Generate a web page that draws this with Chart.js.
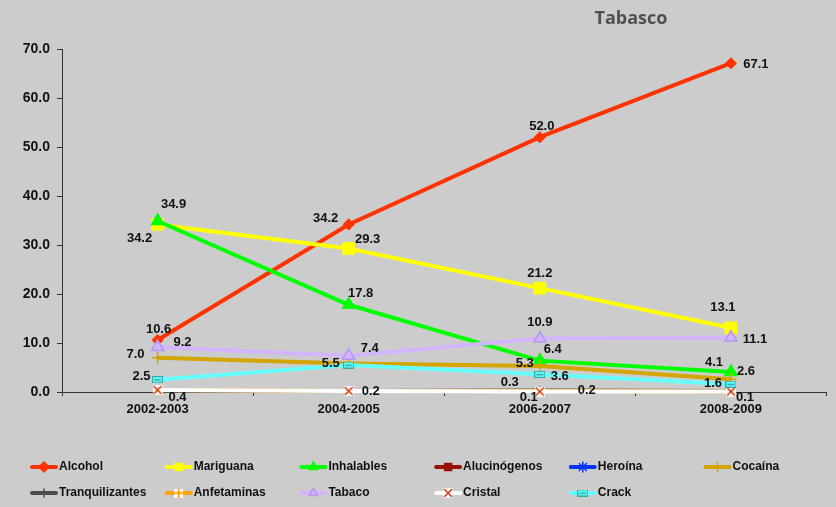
<!DOCTYPE html>
<html>
<head>
<meta charset="utf-8">
<script src="https://cdn.jsdelivr.net/npm/chart.js@4.4.1/dist/chart.umd.min.js"></script>
<style>
  html, body { margin: 0; padding: 0; background: #cccccc; }
  canvas { display: block; }
</style>
</head>
<body>
<canvas id="chart" width="836" height="507"></canvas>
<script>
// periods on the x axis
const periods = ["2002-2003", "2004-2005", "2006-2007", "2008-2009"];

// series values (%)
const alcohol = [10.6, 34.2, 52.0, 67.1];
const mariguana = [34.2, 29.3, 21.2, 13.1];
const inhalables = [34.9, 17.8, 6.4, 4.1];
const alucinogenos = [null, null, null, null];
const heroina = [null, null, null, null];
const cocaina = [7.0, 5.8, 5.3, 2.6];
const tranquilizantes = [0.2, 0.2, 0.3, 0.2];
const anfetaminas = [0.4, 0.2, 0.2, 0.1];
const tabaco = [9.2, 7.4, 10.9, 11.1];
const cristal = [0.4, 0.2, 0.1, 0.1];
const crack = [2.5, 5.5, 3.6, 1.6];

// y axis ticks
const yTicks = [0, 10, 20, 30, 40, 50, 60, 70];

// where each value label sits, relative to its point (null = hidden)
const labelOffsets = {
  "Alcohol": [[1, -11], [-23, -6], [2, -11], [25, 1]],
  "Mariguana": [[-18, 14], [19, -9], [0, -15], [-8, -20]],
  "Inhalables": [[16, -17], [12, -11], [13, -11], [-17, -9]],
  "Cocaína": [[-22, -3], null, [-15, -3], [15, -8]],
  "Tranquilizantes": [null, null, [-30, -8], null],
  "Anfetaminas": [null, null, [47, -1], null],
  "Tabaco": [[25, -4], [21, -7], [0, -16], [24, 2]],
  "Cristal": [[20, 7], [22, 0], [-11, 6], [14, 6]],
  "Crack": [[-16, -3], [-18, -2], [20, 2], [-18, -1]]
};

// small marker images, excel-like
function marker(w, h, draw) {
  const c = document.createElement("canvas");
  c.width = w; c.height = h;
  draw(c.getContext("2d"), w, h);
  return c;
}
const xMark = marker(10, 10, (g, w, h) => {
  g.fillStyle = "rgba(255,255,255,0.85)";
  g.fillRect(0, 0, w, h);
  g.strokeStyle = "#cc3300"; g.lineWidth = 1.5;
  g.beginPath(); g.moveTo(1, 1); g.lineTo(9, 9); g.moveTo(9, 1); g.lineTo(1, 9); g.stroke();
});
const plusMark = marker(9, 9, (g, w, h) => {
  g.fillStyle = "#ffffff";
  g.fillRect(0, 0, w, h);
  g.strokeStyle = "#ffa500"; g.lineWidth = 2;
  g.beginPath(); g.moveTo(4.5, 0); g.lineTo(4.5, 9); g.moveTo(0, 4.5); g.lineTo(9, 4.5); g.stroke();
});
const dashMark = marker(11, 7, (g, w, h) => {
  g.fillStyle = "#66ffff";
  g.fillRect(0, 0, w, h);
  g.strokeStyle = "#33aaaa"; g.lineWidth = 1;
  g.strokeRect(0.5, 0.5, w - 1, h - 1);
  g.fillStyle = "#33aaaa";
  g.fillRect(2, 3, 7, 1.5);
});

const series = [
  { label: "Alcohol", data: alcohol, color: "#ff3300", style: "rectRot", r: 5 },
  { label: "Mariguana", data: mariguana, color: "#ffff00", style: "rect", r: 8 },
  { label: "Inhalables", data: inhalables, color: "#00ff00", style: "triangle", r: 7 },
  { label: "Alucinógenos", data: alucinogenos, color: "#991100", style: "rect", r: 7 },
  { label: "Heroína", data: heroina, color: "#0033ff", style: "star", r: 5 },
  { label: "Cocaína", data: cocaina, color: "#d4a500", style: "cross", r: 6 },
  { label: "Tranquilizantes", data: tranquilizantes, color: "#4d4d4d", style: "cross", r: 4 },
  { label: "Anfetaminas", data: anfetaminas, color: "#ffa500", style: plusMark, r: 5 },
  { label: "Tabaco", data: tabaco, color: "#d2b4ff", style: "triangle", r: 7, border: "#b896f0" },
  { label: "Cristal", data: cristal, color: "#ffffff", style: xMark, r: 5 },
  { label: "Crack", data: crack, color: "#66ffff", style: dashMark, r: 4 }
];

const N = series.length;

const titlePlugin = {
  id: "sideTitle",
  afterDraw(chart) {
    const ctx = chart.ctx;
    ctx.save();
    ctx.font = "bold 18px 'Open Sans'";
    ctx.fillStyle = "#505050";
    ctx.textAlign = "center";
    ctx.textBaseline = "middle";
    ctx.fillText("Tabasco", 631, 19);
    ctx.restore();
  }
};

const valueLabels = {
  id: "valueLabels",
  afterDatasetsDraw(chart) {
    const ctx = chart.ctx;
    ctx.save();
    ctx.font = "bold 13px 'Liberation Sans', Arial";
    ctx.fillStyle = "#111111";
    ctx.textAlign = "center";
    ctx.textBaseline = "middle";
    chart.data.datasets.forEach((ds, i) => {
      const offs = labelOffsets[ds.label];
      if (!offs) return;
      chart.getDatasetMeta(i).data.forEach((pt, j) => {
        const v = ds.data[j];
        if (v == null || !offs[j]) return;
        ctx.fillText(v.toFixed(1), pt.x + offs[j][0], pt.y + offs[j][1]);
      });
    });
    ctx.restore();
  }
};

// legend laid out in fixed columns, two rows
const gridLegend = {
  id: "gridLegend",
  afterDraw(chart) {
    const ctx = chart.ctx;
    const drawPoint = Chart.helpers && Chart.helpers.drawPoint;
    ctx.save();
    ctx.font = "bold 12px 'Liberation Sans', Arial";
    ctx.textBaseline = "middle";
    ctx.textAlign = "left";
    series.forEach((s, i) => {
      const col = i < 6 ? i : i - 6;
      const x = 32 + col * 134.7;
      const y = i < 6 ? 467 : 493;
      ctx.strokeStyle = s.color;
      ctx.lineWidth = 4;
      ctx.lineCap = "round";
      ctx.beginPath();
      ctx.moveTo(x, y);
      ctx.lineTo(x + 24, y);
      ctx.stroke();
      if (drawPoint) {
        ctx.fillStyle = s.color;
        ctx.strokeStyle = s.border || s.color;
        ctx.lineWidth = 1.5;
        drawPoint(ctx, { pointStyle: s.style, radius: Math.min(s.r, 5), rotation: 0, borderWidth: 1.5 }, x + 12, y);
      }
      ctx.fillStyle = "#111111";
      ctx.fillText(s.label, x + 27, y);
    });
    ctx.restore();
  }
};

new Chart(document.getElementById("chart"), {
  type: "line",
  data: {
    labels: periods,
    datasets: series.map((s, i) => ({
      label: s.label,
      data: s.data,
      borderColor: s.color,
      backgroundColor: s.color,
      borderWidth: 4,
      pointStyle: s.style,
      pointRadius: s.r,
      pointBorderColor: s.border || s.color,
      pointBackgroundColor: s.color,
      pointBorderWidth: 1.5,
      tension: 0,
      clip: false,
      order: N - i
    }))
  },
  options: {
    responsive: false,
    devicePixelRatio: 1,
    animation: false,
    layout: { padding: { top: 49, right: 9, left: 0, bottom: 0 } },
    plugins: {
      legend: { display: false },
      title: { display: false },
      tooltip: { enabled: false }
    },
    scales: {
      x: {
        offset: true,
        grid: { display: true, offset: true, drawOnChartArea: false, tickLength: 4, color: "#333333" },
        border: { color: "#333333", width: 1 },
        ticks: { color: "#111111", font: { family: "'Liberation Sans', Arial", size: 13, weight: "bold" }, padding: 6 },
        afterFit(scale) { scale.height = 115; }
      },
      y: {
        min: 0,
        max: 70,
        afterBuildTicks(scale) { scale.ticks = yTicks.map(v => ({ value: v })); },
        grid: { drawOnChartArea: false, tickLength: 5, color: "#333333" },
        border: { color: "#333333", width: 1 },
        ticks: {
          color: "#111111",
          font: { family: "'Liberation Sans', Arial", size: 14, weight: "bold" },
          padding: 7,
          callback: v => Number(v).toFixed(1)
        },
        afterFit(scale) { scale.width = 62; }
      }
    }
  },
  plugins: [titlePlugin, valueLabels, gridLegend]
});
</script>
</body>
</html>
